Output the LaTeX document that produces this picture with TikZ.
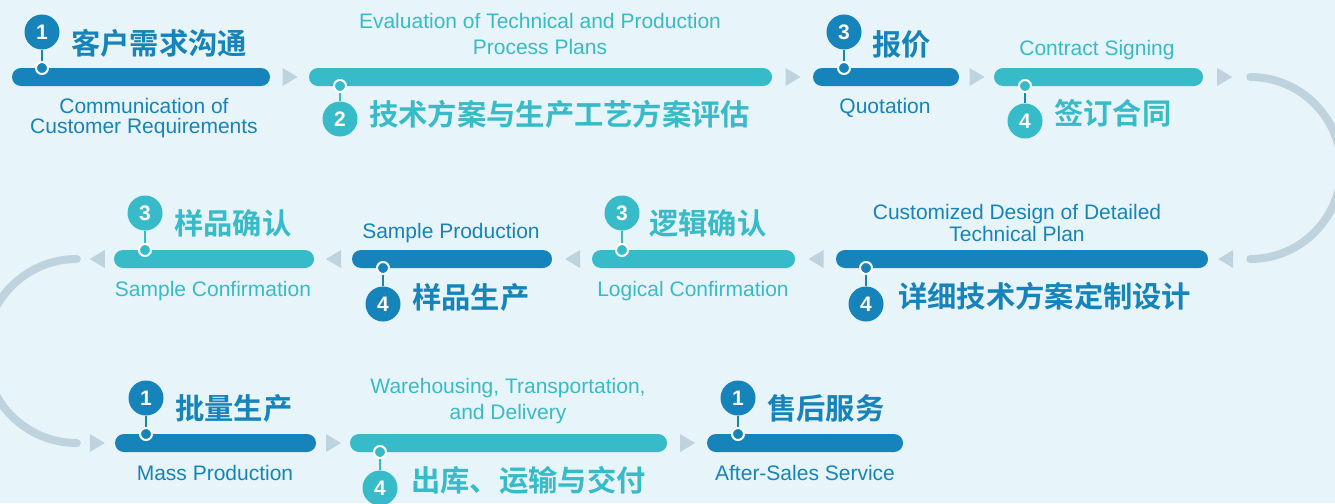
\documentclass[tikz,border=0pt]{standalone}
\usepackage{fontspec}
\setmainfont{Liberation Sans}
\newfontfamily\cjk{Noto Sans CJK SC Bold}
\usetikzlibrary{calc}
\definecolor{dkb}{RGB}{22,132,187}
\definecolor{tel}{RGB}{56,187,201}
\definecolor{bgc}{RGB}{231,244,250}
\definecolor{gry}{RGB}{190,211,222}
\tikzset{
  barbox/.style={rectangle, rounded corners=9pt, minimum height=18pt, inner sep=0pt, fill=#1},
  marker/.style={circle, fill=#1, draw=white, line width=2pt, minimum size=12pt, inner sep=0pt},
  numcirc/.style={circle, fill=#1, minimum size=35pt, inner sep=0pt, text=white, font=\fontsize{21}{21}\selectfont\bfseries},
  stem/.style={draw=#1, line width=2pt},
  entext/.style={text=#1, font=\fontsize{21}{21}\selectfont, inner sep=0pt, text height=15pt, text depth=0pt, anchor=center},
  cntext/.style={text=#1, font=\fontsize{29.3}{29.3}\cjk, inner sep=0pt, text height=22.5pt, text depth=0pt, anchor=west},
  flowtri/.style={fill=gry},
  rowturn/.style={draw=gry, line width=8pt, line cap=round},
}
\begin{document}
\begin{tikzpicture}[x=1pt,y=-1pt]
\fill[bgc] (0,0) rectangle (1335,503);
\useasboundingbox (0,0) rectangle (1335,503);
% ---------- row 1 bars ----------
\node[barbox=dkb, minimum width=258pt] (b1) at (141,77) {};
\node[barbox=tel, minimum width=463pt] (b2) at (540.5,77) {};
\node[barbox=dkb, minimum width=146pt] (b3) at (886,77) {};
\node[barbox=tel, minimum width=209pt] (b4) at (1098.5,77) {};
% ---------- row 2 bars ----------
\node[barbox=dkb, minimum width=372pt] (bA) at (1022,259) {};
\node[barbox=tel, minimum width=203pt] (bB) at (693.5,259) {};
\node[barbox=dkb, minimum width=200pt] (bC) at (452,259) {};
\node[barbox=tel, minimum width=200pt] (bD) at (214,259) {};
% ---------- row 3 bars ----------
\node[barbox=dkb, minimum width=201pt] (bE) at (215.5,443) {};
\node[barbox=tel, minimum width=317pt] (bF) at (508.5,443) {};
\node[barbox=dkb, minimum width=196pt] (bG) at (805,443) {};
% ---------- triangles (right pointing) ----------
\foreach \a/\b in {b1/b2, b2/b3, b3/b4, bE/bF, bF/bG}{
  \fill[flowtri] ($(\a.east)!0.5!(\b.west)+(-7,-9)$) -- ++(15,9) -- ++(-15,9) -- cycle;
}
% ---------- triangles (left pointing) ----------
\foreach \a/\b in {bB/bA, bC/bB, bD/bC}{
  \fill[flowtri] ($(\a.east)!0.5!(\b.west)+(8,-9)$) -- ++(-15,9) -- ++(15,9) -- cycle;
}
\coordinate (r1end) at ($(b4.east)+(47,0)$);
\coordinate (r2start) at ($(bA.east)+(42,0)$);
\fill[flowtri] ($(b4.east)+(14,-9)$) -- ++(15,9) -- ++(-15,9) -- cycle;
\fill[flowtri] ($(bA.east)+(25,-9)$) -- ++(-15,9) -- ++(15,9) -- cycle;
\coordinate (r2end) at ($(bD.west)+(-37,0)$);
\coordinate (r3start) at ($(bE.west)+(-38,0)$);
\fill[flowtri] ($(bD.west)+(-9,-9)$) -- ++(-15,9) -- ++(15,9) -- cycle;
\fill[flowtri] ($(bE.west)+(-25,-9)$) -- ++(15,9) -- ++(-15,9) -- cycle;
% ---------- bends ----------
\draw[rowturn] (r1end) arc[start angle=-90, end angle=90, radius=91];
\draw[rowturn] (r2end) arc[start angle=270, end angle=90, radius=92];
% ---------- markers, stems, numbers ----------
% row 1
\node[numcirc=dkb] (n1) at (42,32) {1};
\node[marker=dkb] (m1) at (42,68) {};
\draw[stem=dkb] (n1) -- (m1);
\node[numcirc=tel] (n2) at (340,119) {2};
\node[marker=tel] (m2) at (340,86) {};
\draw[stem=tel] (n2) -- (m2);
\node[numcirc=dkb] (n3) at (844,32) {3};
\node[marker=dkb] (m3) at (844,68) {};
\draw[stem=dkb] (n3) -- (m3);
\node[numcirc=tel] (n4) at (1025,121) {4};
\node[marker=tel] (m4) at (1025,86) {};
\draw[stem=dkb] (n4) -- (m4);
% row 2
\node[numcirc=tel] (nD) at (145,213) {3};
\node[marker=tel] (mD) at (145,250) {};
\draw[stem=tel] (nD) -- (mD);
\node[numcirc=dkb] (nC) at (383,304) {4};
\node[marker=dkb] (mC) at (383,268) {};
\draw[stem=dkb] (nC) -- (mC);
\node[numcirc=tel] (nB) at (622,213) {3};
\node[marker=tel] (mB) at (622,250) {};
\draw[stem=tel] (nB) -- (mB);
\node[numcirc=dkb] (nA) at (866,304) {4};
\node[marker=dkb] (mA) at (866,268) {};
\draw[stem=dkb] (nA) -- (mA);
% row 3
\node[numcirc=dkb] (nE) at (146,398) {1};
\node[marker=dkb] (mE) at (146,434) {};
\draw[stem=dkb] (nE) -- (mE);
\node[numcirc=tel] (nF) at (380,488) {4};
\node[marker=tel] (mF) at (380,452) {};
\draw[stem=tel] (nF) -- (mF);
\node[numcirc=dkb] (nG) at (738,398) {1};
\node[marker=dkb] (mG) at (738,434) {};
\draw[stem=dkb] (nG) -- (mG);
% ---------- Chinese titles ----------
\node[cntext=dkb] (c1) at (71,43) {客户需求沟通};
\node[cntext=tel] (c2) at (369,114) {技术方案与生产工艺方案评估};
\node[cntext=dkb] (c3) at (872,44) {报价};
\node[cntext=tel] (c4) at (1054,113) {签订合同};
\node[cntext=tel] (cD) at (174,223) {样品确认};
\node[cntext=dkb] (cC) at (412,297) {样品生产};
\node[cntext=tel] (cB) at (649,223) {逻辑确认};
\node[cntext=dkb] (cA) at (898,296) {详细技术方案定制设计};
\node[cntext=dkb] (cE) at (175,408) {批量生产};
\node[cntext=tel] (cF) at (411,480) {出库、运输与交付};
\node[cntext=dkb] (cG) at (767,408) {售后服务};
% ---------- English texts ----------
\node[entext=dkb] (e1a) at (144,106) {Communication of};
\node[entext=dkb] (e1b) at (144,126) {Customer Requirements};
\node[entext=tel] (e2a) at (540,21) {Evaluation of Technical and Production};
\node[entext=tel] (e2b) at (540,47) {Process Plans};
\node[entext=dkb] (e3) at (885,106) {Quotation};
\node[entext=tel] (e4) at (1097,48) {Contract Signing};
\node[entext=tel] (eD) at (213,289) {Sample Confirmation};
\node[entext=dkb] (eC) at (451,231) {Sample Production};
\node[entext=tel] (eB) at (693,289) {Logical Confirmation};
\node[entext=dkb] (eAa) at (1017,212) {Customized Design of Detailed};
\node[entext=dkb] (eAb) at (1017,234) {Technical Plan};
\node[entext=dkb] (eE) at (215,473) {Mass Production};
\node[entext=tel] (eFa) at (508,386) {Warehousing, Transportation,};
\node[entext=tel] (eFb) at (508,412) {and Delivery};
\node[entext=dkb] (eG) at (805,473) {After-Sales Service};
\end{tikzpicture}
\end{document}
